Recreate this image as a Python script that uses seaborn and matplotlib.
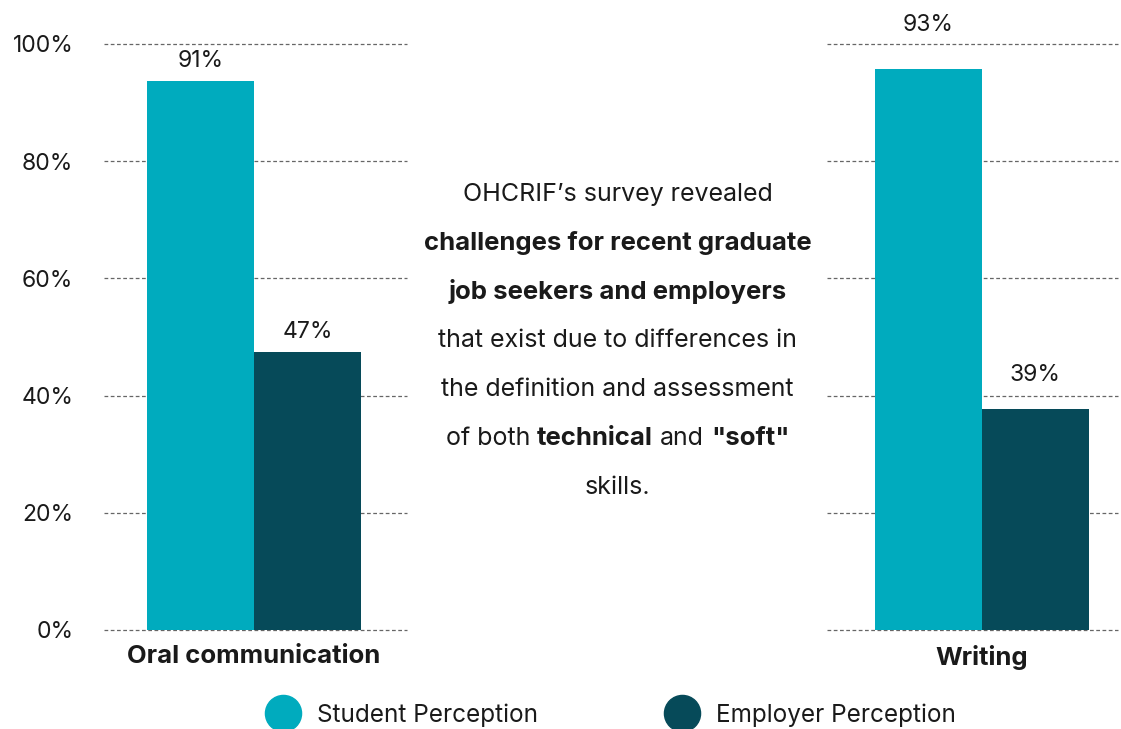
import numpy as np
import pandas as pd
import seaborn as sns
from matplotlib import pyplot as plt
from matplotlib.lines import Line2D

sns.set_style('white')
plt.rcParams['font.family'] = ['Inter', 'DejaVu Sans']

# data
skills = ['Oral communication', 'Writing']
groups = ['Student Perception', 'Employer Perception']
student_bar = [93.7, 95.7]      # drawn heights of the bars
employer_bar = [47.4, 37.7]
student_label = ['91%', '93%']  # printed labels
employer_label = ['47%', '39%']
colors = ['#00ABBE', '#064A59']
ink = '#1A1A1A'

df = pd.DataFrame({
    'Skill': skills * 2,
    'Group': [groups[0]] * 2 + [groups[1]] * 2,
    'Value': student_bar + employer_bar,
    'Label': student_label + employer_label,
})

W, H = 1121, 729
fig = plt.figure(figsize=(W / 100, H / 100), dpi=100)
fs = 16.5        # tick and value labels
fs_note = 18     # middle paragraph
fs_bold = 18.5   # bold words, Gotham-like widths

def px_axes(x0, x1, y_top, y_bot):
    return fig.add_axes([x0 / W, 1 - y_bot / H, (x1 - x0) / W, (y_bot - y_top) / H])

ax_l = px_axes(104, 407, 44, 630)
ax_r = px_axes(827, 1118, 44, 630)
panels = [(ax_l, skills[0], (-0.561, 0.572)), (ax_r, skills[1], (-0.579, 0.509))]

for ax, skill, xlim in panels:
    sub = df[df['Skill'] == skill]
    sns.barplot(data=sub, x='Skill', y='Value', hue='Group', hue_order=groups,
                palette=colors, saturation=1, width=0.8, legend=False, ax=ax,
                linewidth=0, zorder=3)
    ax.set_xlim(*xlim)
    ax.set_ylim(0, 100)
    ax.set_yticks(np.arange(0, 101, 20))
    ax.yaxis.grid(True, color='#666666', linestyle=(0, (3, 2)), linewidth=0.9)
    ax.set_axisbelow(True)
    for g in ax.get_ygridlines():
        g.set_clip_on(False)
    for s in ax.spines.values():
        s.set_visible(False)
    ax.set_xlabel('')
    ax.set_ylabel('')
    ax.tick_params(axis='both', length=0)
    ax.tick_params(axis='x', pad=11)
    for t in ax.get_xticklabels():
        t.set_fontsize(fs_bold)
        t.set_fontweight('bold')
        t.set_color(ink)
    # value labels above each bar, lifted over the 100% line if needed
    labels = sub.set_index('Group').loc[groups, 'Label']
    for bar, lab in zip(ax.patches, labels):
        top = bar.get_height()
        off = 14 if top < 95 else 38
        if top < 40:
            off = 28
        ax.annotate(lab, (bar.get_x() + bar.get_width() / 2, top), xytext=(0, off * 0.72),
                    textcoords='offset points', ha='center', va='baseline',
                    fontsize=fs, color=ink, annotation_clip=False)

ax_l.set_yticks(np.arange(0, 101, 20), [f'{v}%' for v in range(0, 101, 20)])
ax_l.tick_params(axis='y', pad=22, labelsize=fs, labelcolor=ink)
ax_r.set_yticklabels([])

# middle note with mixed weights
note = [
    [("OHCRIF\u2019s survey revealed", 'normal')],
    [("challenges for recent graduate", 'bold')],
    [("job seekers and employers", 'bold')],
    [("that exist due to differences in", 'normal')],
    [("the definition and assessment", 'normal')],
    [("of both", 'normal'), ("technical", 'bold'), ("and", 'normal'), ('"soft"', 'bold')],
    [("skills.", 'normal')],
]
fig.canvas.draw()
r = fig.canvas.get_renderer()

def size(w):
    return fs_bold if w == 'bold' else fs_note

def width(s, w):
    t = fig.text(0, 0, s, fontsize=size(w), fontweight=w)
    bb = t.get_window_extent(r)
    t.remove()
    return bb.width

space = width('a a', 'normal') - width('aa', 'normal')
cx, y0, dy = 617.5, 201, 48.8
for i, line in enumerate(note):
    widths = [width(s, w) for s, w in line]
    total = sum(widths) + space * (len(line) - 1)
    x = cx - total / 2
    yb = y0 + i * dy
    for (s, w), wd in zip(line, widths):
        fig.text(x / W, 1 - yb / H, s, fontsize=size(w), fontweight=w, color=ink,
                 ha='left', va='baseline')
        x += wd + space

handles = [Line2D([], [], marker='o', linestyle='none', markersize=26,
                  markerfacecolor=c, markeredgecolor=c) for c in colors]
fig.legend(handles, groups, loc='center', bbox_to_anchor=(612 / W, 1 - 715 / H), ncol=2,
           frameon=False, fontsize=17.5, handletextpad=0.8, columnspacing=5.35,
           labelcolor=ink, handlelength=1.2)

fig.savefig('out.png', dpi=100)
